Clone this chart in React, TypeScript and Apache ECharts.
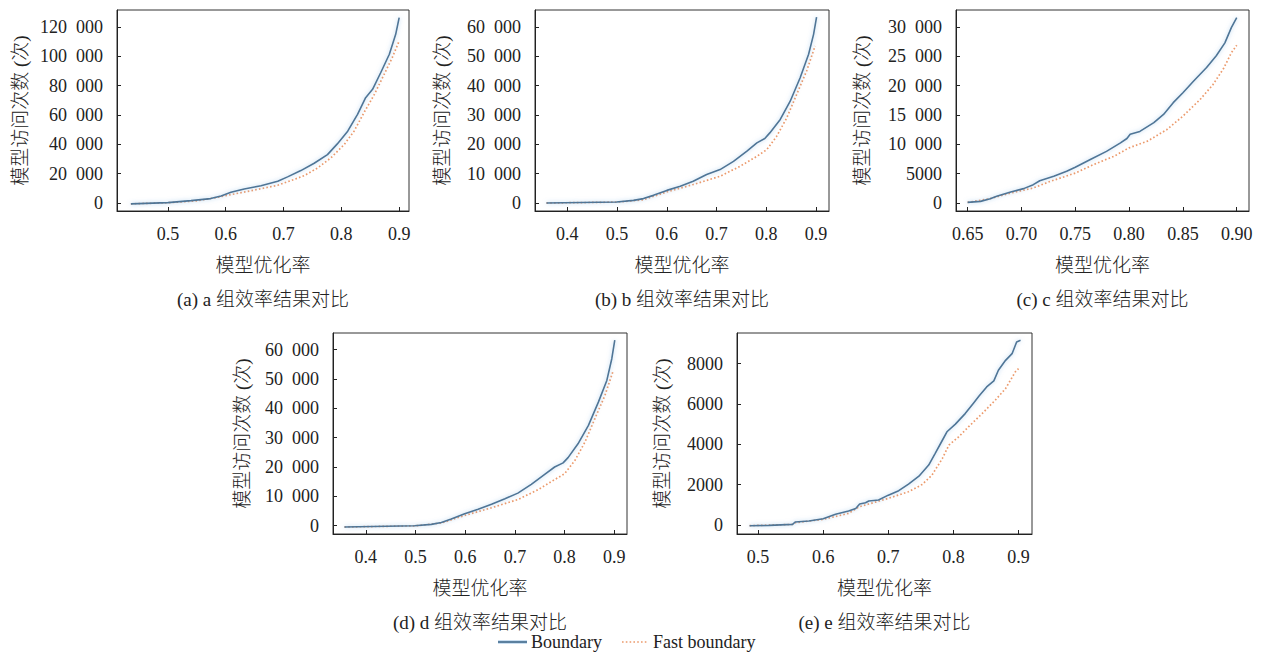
import React, { useEffect, useRef } from "react";
import * as echarts from "echarts";

// ---------- data ----------
const aBoundary: number[][] = [
  [0.436, -600], [0.5, 230], [0.54, 1600], [0.574, 3000], [0.592, 4800], [0.609, 7300],
  [0.632, 9600], [0.661, 11800], [0.69, 14800], [0.707, 17800], [0.73, 22100], [0.753, 27100],
  [0.776, 33000], [0.793, 40300], [0.811, 49000], [0.828, 60400], [0.842, 71800], [0.854, 77500],
  [0.868, 88800], [0.883, 101400], [0.894, 115000], [0.9, 126400],
];
const aFast: number[][] = [
  [0.436, -600], [0.5, 200], [0.55, 1500], [0.586, 3900], [0.609, 5700], [0.644, 8400],
  [0.69, 12100], [0.713, 15300], [0.736, 18700], [0.759, 23900], [0.782, 30800], [0.805, 39900],
  [0.822, 49000], [0.839, 61500], [0.857, 74000], [0.874, 87700], [0.888, 99100], [0.9, 110500],
];
const bBoundary: number[][] = [
  [0.358, 0], [0.499, 340], [0.533, 900], [0.553, 1500], [0.573, 2600], [0.6, 4300],
  [0.627, 5700], [0.653, 7400], [0.68, 9700], [0.707, 11400], [0.734, 14200], [0.761, 17700],
  [0.781, 20500], [0.797, 22000], [0.807, 23900], [0.828, 28500], [0.848, 34700], [0.868, 42700],
  [0.885, 50700], [0.895, 57500], [0.901, 63400],
];
const bFast: number[][] = [
  [0.358, 0], [0.5, 300], [0.553, 1100], [0.6, 3800], [0.653, 6300], [0.707, 9100],
  [0.747, 12500], [0.781, 15900], [0.801, 18200], [0.821, 22800], [0.841, 29000], [0.861, 37000],
  [0.881, 45000], [0.898, 53500],
];
const cBoundary: number[][] = [
  [0.65, 100], [0.662, 280], [0.671, 740], [0.677, 1140], [0.69, 1880], [0.702, 2450],
  [0.711, 3130], [0.717, 3800], [0.73, 4560], [0.742, 5400], [0.75, 6100], [0.764, 7400],
  [0.779, 8800], [0.792, 10250], [0.798, 11000], [0.801, 11700], [0.81, 12200], [0.823, 13700],
  [0.832, 15100], [0.841, 17100], [0.85, 18800], [0.86, 20800], [0.872, 23100], [0.881, 25100],
  [0.889, 27300], [0.895, 29900], [0.9, 31600],
];
const cFast: number[][] = [
  [0.65, 100], [0.67, 700], [0.69, 1700], [0.711, 2560], [0.727, 3700], [0.75, 5100],
  [0.767, 6550], [0.786, 7970], [0.8, 9400], [0.817, 10540], [0.835, 12500], [0.85, 14800],
  [0.866, 17650], [0.878, 20200], [0.888, 23000], [0.895, 25600], [0.9, 26900],
];
const dBoundary: number[][] = [
  [0.357, -450], [0.498, 0], [0.532, 450], [0.552, 1100], [0.572, 2300], [0.599, 4100],
  [0.626, 5600], [0.653, 7300], [0.68, 9200], [0.706, 11100], [0.733, 14100], [0.76, 17500],
  [0.78, 20000], [0.797, 21400], [0.807, 23200], [0.827, 27900], [0.848, 34200], [0.868, 42100],
  [0.885, 49500], [0.895, 56900], [0.901, 63200],
];
const dFast: number[][] = [
  [0.357, -450], [0.5, -50], [0.552, 900], [0.599, 3500], [0.653, 6100], [0.706, 8900],
  [0.747, 12300], [0.78, 15700], [0.8, 17700], [0.821, 22300], [0.841, 28500], [0.861, 36500],
  [0.881, 44300], [0.898, 52900],
];
const eBoundary: number[][] = [
  [0.487, -33], [0.517, -16], [0.553, 30], [0.557, 150], [0.578, 200], [0.6, 310],
  [0.619, 530], [0.639, 690], [0.65, 820], [0.656, 1040], [0.665, 1100], [0.67, 1190],
  [0.685, 1240], [0.7, 1480], [0.716, 1700], [0.731, 2030], [0.747, 2420], [0.762, 2970],
  [0.772, 3550], [0.783, 4200], [0.79, 4620], [0.803, 5000], [0.818, 5520], [0.831, 6050],
  [0.839, 6380], [0.851, 6840], [0.862, 7140], [0.869, 7670], [0.88, 8160], [0.89, 8490],
  [0.897, 9070], [0.903, 9150],
];
const eFast: number[][] = [
  [0.487, -33], [0.553, 30], [0.557, 115], [0.6, 280], [0.639, 580], [0.655, 900],
  [0.67, 1040], [0.7, 1320], [0.731, 1650], [0.752, 2010], [0.767, 2470], [0.783, 3300],
  [0.793, 3960], [0.808, 4370], [0.823, 4860], [0.844, 5520], [0.864, 6180], [0.88, 6760],
  [0.895, 7590], [0.9, 7750],
];

const xTicksA = [0.5, 0.6, 0.7, 0.8, 0.9];
const xTicksB = [0.4, 0.5, 0.6, 0.7, 0.8, 0.9];
const xTicksC = [0.65, 0.7, 0.75, 0.8, 0.85, 0.9];
const xTicksE = [0.5, 0.6, 0.7, 0.8, 0.9];
const yTicksA = [0, 20000, 40000, 60000, 80000, 100000, 120000];
const yTicksB = [0, 10000, 20000, 30000, 40000, 50000, 60000];
const yTicksC = [0, 5000, 10000, 15000, 20000, 25000, 30000];
const yTicksE = [0, 2000, 4000, 6000, 8000];

const captions = ["(a) a 组效率结果对比", "(b) b 组效率结果对比", "(c) c 组效率结果对比", "(d) d 组效率结果对比", "(e) e 组效率结果对比"];
const xName = "模型优化率";
const yName = "模型访问次数 (次)";
const seriesNames = ["Boundary", "Fast boundary"];

// ---------- layout ----------
const panels = [
  { grid: { left: 117, top: 10, width: 292, height: 201 }, x: [0.412, 0.917], y: [-5455, 131590], xt: xTicksA, yt: yTicksA, dec: 1, b: aBoundary, f: aFast, yNameX: 20 },
  { grid: { left: 535, top: 10, width: 294, height: 201 }, x: [0.335, 0.926], y: [-2727, 65795], xt: xTicksB, yt: yTicksB, dec: 1, b: bBoundary, f: bFast, yNameX: 442 },
  { grid: { left: 956, top: 10, width: 293, height: 201 }, x: [0.6392, 0.9114], y: [-1364, 32898], xt: xTicksC, yt: yTicksC, dec: 2, b: cBoundary, f: cFast, yNameX: 862 },
  { grid: { left: 333, top: 333, width: 294, height: 201 }, x: [0.334, 0.9256], y: [-2834, 65669], xt: xTicksB, yt: yTicksB, dec: 1, b: dBoundary, f: dFast, yNameX: 242 },
  { grid: { left: 737, top: 333, width: 295, height: 201 }, x: [0.4677, 0.9206], y: [-445, 9514], xt: xTicksE, yt: yTicksE, dec: 1, b: eBoundary, f: eFast, yNameX: 662 },
];

const SERIF = "'Liberation Serif', 'Times New Roman', serif";
const MIXED = "'Liberation Serif', 'Noto Sans CJK SC', serif";
const TEXT = "#222";
const BLUE = "#4f7596";
const ORANGE = "#ec9a6c";

function fmtY(v: number): string {
  if (Math.abs(v) >= 10000) {
    const s = String(Math.round(v));
    return s.slice(0, s.length - 3) + "\u2002" + s.slice(s.length - 3);
  }
  return String(Math.round(v));
}

export default function App() {
  const ref = useRef<HTMLDivElement>(null);
  useEffect(() => {
    if (!ref.current) return;
    const chart = echarts.init(ref.current, undefined, { renderer: "svg" });
    const grids: any[] = [];
    const xAxes: any[] = [];
    const yAxes: any[] = [];
    const series: any[] = [];
    const graphics: any[] = [];
    panels.forEach((p, i) => {
      grids.push({
        ...p.grid,
        show: true,
        borderColor: "#333",
        borderWidth: 1,
        backgroundColor: "transparent",
        containLabel: false,
      });
      xAxes.push({
        type: "value",
        gridIndex: i,
        min: p.x[0],
        max: p.x[1],
        axisLine: { show: true, onZero: false, lineStyle: { color: "#222", width: 1 } },
        axisTick: { show: true, inside: true, length: 4, customValues: p.xt, lineStyle: { color: "#222" } },
        axisLabel: {
          show: true,
          margin: 14,
          customValues: p.xt,
          formatter: (v: number) => v.toFixed(p.dec),
          fontFamily: SERIF,
          fontSize: 18,
          color: TEXT,
        },
        splitLine: { show: false },
      });
      yAxes.push({
        type: "value",
        gridIndex: i,
        min: p.y[0],
        max: p.y[1],
        axisLine: { show: true, onZero: false, lineStyle: { color: "#222", width: 1 } },
        axisTick: { show: true, inside: true, length: 4, customValues: p.yt, lineStyle: { color: "#222" } },
        axisLabel: {
          show: true,
          margin: 14,
          customValues: p.yt,
          formatter: (v: number) => fmtY(v),
          fontFamily: SERIF,
          fontSize: 18,
          color: TEXT,
        },
        splitLine: { show: false },
      });
      series.push({
        name: seriesNames[1],
        type: "line",
        xAxisIndex: i,
        yAxisIndex: i,
        data: p.f,
        symbol: "none",
        smooth: false,
        lineStyle: { color: ORANGE, width: 1.7, type: [1.6, 2.2] },
        itemStyle: { color: ORANGE },
        z: 2,
      });
      series.push({
        name: seriesNames[0],
        type: "line",
        xAxisIndex: i,
        yAxisIndex: i,
        data: p.b,
        symbol: "none",
        smooth: false,
        lineStyle: { color: BLUE, width: 1.6, shadowColor: "rgba(120,175,225,0.55)", shadowBlur: 4 },
        itemStyle: { color: BLUE },
        z: 3,
      });
      const cx = p.grid.left + p.grid.width / 2;
      const cy = p.grid.top + p.grid.height / 2;
      const bottom = p.grid.top + p.grid.height;
      graphics.push({
        type: "text",
        x: p.yNameX,
        y: cy,
        rotation: Math.PI / 2,
        style: {
          text: yName,
          fontFamily: MIXED,
          fontSize: 19,
          fontWeight: 300,
          fill: TEXT,
          align: "center",
          verticalAlign: "middle",
        },
      });
      graphics.push({
        type: "text",
        x: cx,
        y: bottom + 54,
        style: { text: xName, fontFamily: MIXED, fontSize: 19, fontWeight: 300, fill: TEXT, align: "center", verticalAlign: "middle" },
      });
      graphics.push({
        type: "text",
        x: cx,
        y: bottom + 88,
        style: { text: captions[i], fontFamily: MIXED, fontSize: 19, fontWeight: 300, fill: TEXT, align: "center", verticalAlign: "middle" },
      });
    });

    // legend drawn as graphic marks
    const legY = 642;
    graphics.push({
      type: "line",
      shape: { x1: 498, y1: legY, x2: 527, y2: legY },
      style: { stroke: "rgba(140,185,225,0.45)", lineWidth: 4 },
    });
    graphics.push({
      type: "line",
      shape: { x1: 498, y1: legY, x2: 527, y2: legY },
      style: { stroke: BLUE, lineWidth: 1.8 },
    });
    graphics.push({
      type: "text",
      x: 531,
      y: legY,
      style: { text: seriesNames[0], fontFamily: SERIF, fontSize: 18, fill: TEXT, align: "left", verticalAlign: "middle" },
    });
    graphics.push({
      type: "line",
      shape: { x1: 622, y1: legY, x2: 648, y2: legY },
      style: { stroke: ORANGE, lineWidth: 1.7, lineDash: [1.6, 2.2] },
    });
    graphics.push({
      type: "text",
      x: 653,
      y: legY,
      style: { text: seriesNames[1], fontFamily: SERIF, fontSize: 18, fill: TEXT, align: "left", verticalAlign: "middle" },
    });

    chart.setOption({
      animation: false,
      backgroundColor: "#fff",
      grid: grids,
      xAxis: xAxes,
      yAxis: yAxes,
      series,
      graphic: graphics,
    });
    return () => chart.dispose();
  }, []);
  return (
    <div
      ref={ref}
      style={{ position: "absolute", left: 0, top: 0, width: 1261, height: 657, background: "#fff" }}
    />
  );
}
